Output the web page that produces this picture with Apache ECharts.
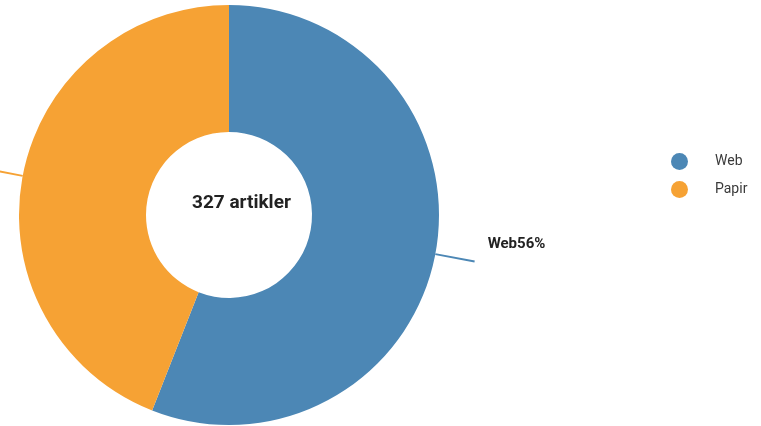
<!DOCTYPE html>
<html>
<head>
<meta charset="utf-8">
<script src="https://cdn.jsdelivr.net/npm/echarts@6/dist/echarts.min.js"></script>
<style>html,body{margin:0;padding:0;background:#fff;}#c{width:761px;height:426px;}</style>
</head>
<body>
<div id="c"></div>
<script>
var categories = ['Web', 'Papir'];
var values = [183, 144];
var centerText = '327 artikler';
var colors = ['#4c87b5', '#f6a234'];

var chart = echarts.init(document.getElementById('c'));
chart.setOption({
  animation: false,
  color: colors,
  title: {
    text: centerText,
    left: 187,
    top: 189,
    textStyle: { fontFamily: 'Roboto', fontSize: 19, fontWeight: 'bold', color: '#222' }
  },
  legend: {
    orient: 'vertical',
    left: 666,
    top: 148,
    icon: 'circle',
    itemWidth: 17,
    itemHeight: 17,
    itemGap: 11,
    data: categories,
    textStyle: { fontFamily: 'Roboto', fontSize: 14, color: '#3a3a3a', padding: [0, 0, 0, 22] }
  },
  series: [{
    type: 'pie',
    center: [229, 215],
    radius: [83, 210],
    startAngle: 90,
    clockwise: true,
    data: categories.map(function (c, i) { return { name: c, value: values[i] }; }),
    label: {
      show: true,
      position: 'outside',
      formatter: function (p) { return '{t|' + p.name + Math.round(p.percent) + '%}\n{s|}'; },
      distanceToLabelLine: 13,
      rich: {
        t: { fontFamily: 'Roboto', fontSize: 15, fontWeight: 'bold', color: '#222', lineHeight: 14 },
        s: { height: 34, lineHeight: 34 }
      }
    },
    labelLine: {
      show: true,
      length: 40,
      length2: 0,
      lineStyle: { width: 2 }
    },
    emphasis: { disabled: true }
  }]
});
</script>
</body>
</html>
